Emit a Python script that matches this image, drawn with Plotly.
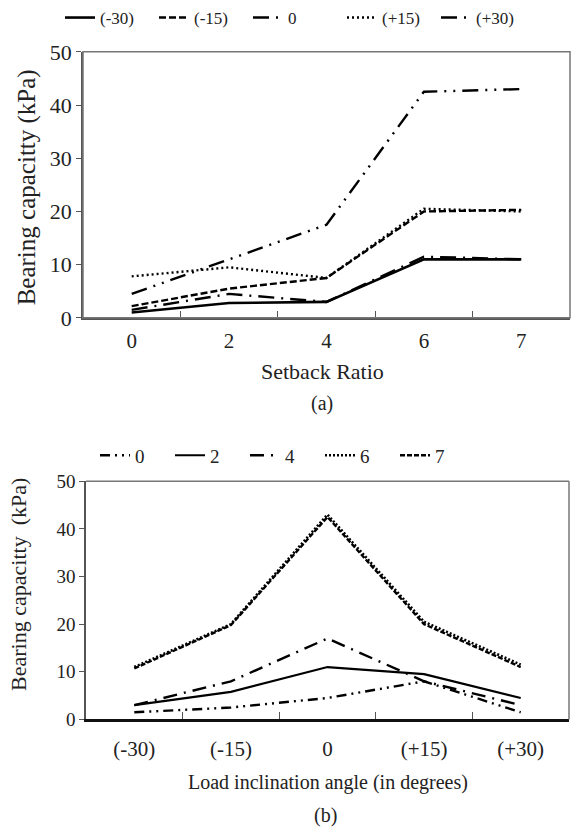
import plotly.graph_objects as go

# ---- Data (a): x = setback ratio, series = load inclination angle ----
setback_labels = ["0", "2", "4", "6", "7"]
a_m30 = [1.0, 2.8, 3.0, 11.0, 11.0]
a_m15 = [2.2, 5.5, 7.5, 20.0, 20.3]
a_0 = [4.5, 11.0, 17.5, 42.5, 43.0]
a_p15 = [7.8, 9.5, 7.5, 20.5, 20.0]
a_p30 = [1.5, 4.5, 3.0, 11.5, 11.0]
a_names = ["(-30)", "(-15)", "0", "(+15)", "(+30)"]

# ---- Data (b): x = load inclination angle, series = setback ratio ----
angle_labels = ["(-30)", "(-15)", "0", "(+15)", "(+30)"]
b_s0 = [1.5, 2.5, 4.5, 8.0, 1.5]
b_s2 = [3.0, 5.8, 11.0, 9.5, 4.5]
b_s4 = [3.0, 8.0, 17.0, 8.0, 3.0]
b_s6 = [11.0, 20.0, 43.0, 20.5, 11.5]
b_s7 = [10.7, 19.8, 42.5, 20.0, 11.0]
b_names = ["0", "2", "4", "6", "7"]

FONT = "Liberation Serif, Times New Roman, DejaVu Serif, serif"
W, H = 572, 839

def px_x(p):
    return p / W

def px_y(p):
    return 1 - p / H

fig = go.Figure()

a_styles = [
    dict(dash="solid", width=2.6),
    dict(dash="7px,3px", width=2.4),
    dict(dash="16px,7px,2px,7px,2px,7px", width=2.4),
    dict(dash="2px,3px", width=2.4),
    dict(dash="16px,7px,2px,7px", width=2.4),
]
for name, vals, st in zip(a_names, [a_m30, a_m15, a_0, a_p15, a_p30], a_styles):
    fig.add_trace(go.Scatter(
        x=setback_labels, y=vals, name=name, mode="lines",
        line=dict(color="black", **st), xaxis="x", yaxis="y", legend="legend"))

b_styles = [
    dict(dash="10px,5px,2px,5px,2px,5px", width=2.4),
    dict(dash="solid", width=2.2),
    dict(dash="14px,7px,2px,7px", width=2.4),
    dict(dash="2px,2px", width=2.6),
    dict(dash="5px,2px", width=2.4),
]
for name, vals, st in zip(b_names, [b_s0, b_s2, b_s4, b_s6, b_s7], b_styles):
    fig.add_trace(go.Scatter(
        x=angle_labels, y=vals, name=name, mode="lines",
        line=dict(color="black", **st), xaxis="x2", yaxis="y2", legend="legend2"))

axis_common = dict(showgrid=False, zeroline=False, color="#222", automargin=False)

def ann(text, x, y, size, angle=0):
    return dict(text=text, x=px_x(x), y=px_y(y), xref="paper", yref="paper",
                xanchor="center", yanchor="middle", textangle=angle, showarrow=False,
                font=dict(size=size, family=FONT, color="#222"))

fig.update_layout(
    width=W, height=H,
    margin=dict(l=0, r=0, t=0, b=0),
    paper_bgcolor="white", plot_bgcolor="white",
    font=dict(family=FONT, color="#222", size=18),
    xaxis=dict(
        domain=[px_x(83), px_x(570)], anchor="y", type="category", range=[-0.5, 4.5],
        tickson="boundaries", ticks="inside", ticklen=7, tickcolor="#555",
        showline=True, linecolor="#555", linewidth=2, ticklabelstandoff=3,
        tickfont=dict(size=21, family=FONT), **axis_common),
    yaxis=dict(
        domain=[px_y(316), px_y(49)], anchor="x", range=[0, 50],
        tickvals=[0, 10, 20, 30, 40, 50], ticks="outside", ticklen=5, tickcolor="#555",
        showline=True, linecolor="#555", linewidth=1.5,
        tickfont=dict(size=22, family=FONT), **axis_common),
    xaxis2=dict(
        domain=[px_x(86), px_x(569)], anchor="y2", type="category", range=[-0.5, 4.5],
        tickson="boundaries", ticks="inside", ticklen=7, tickcolor="#555",
        showline=True, linecolor="#111", linewidth=3, ticklabelstandoff=8,
        tickfont=dict(size=21, family=FONT), **axis_common),
    yaxis2=dict(
        domain=[px_y(719), px_y(480)], anchor="x2", range=[0, 50],
        tickvals=[0, 10, 20, 30, 40, 50], ticks="outside", ticklen=5, tickcolor="#555",
        showline=True, linecolor="#555", linewidth=1.5,
        tickfont=dict(size=19, family=FONT), **axis_common),
    legend=dict(
        orientation="h", x=px_x(60), y=px_y(15), xanchor="left", yanchor="middle",
        entrywidth=49, entrywidthmode="pixels", font=dict(size=17, family=FONT),
        bgcolor="rgba(0,0,0,0)", tracegroupgap=0),
    legend2=dict(
        orientation="h", x=px_x(95), y=px_y(454), xanchor="left", yanchor="middle",
        entrywidth=30, entrywidthmode="pixels", font=dict(size=19, family=FONT),
        bgcolor="rgba(0,0,0,0)"),
    shapes=[
        dict(type="rect", xref="x domain", yref="y domain", x0=0, x1=1, y0=0, y1=1,
             line=dict(color="#777", width=1.5)),
        dict(type="line", xref="x2 domain", yref="y2 domain", x0=0, x1=1, y0=1, y1=1,
             line=dict(color="#777", width=1.5)),
        dict(type="line", xref="x2 domain", yref="y2 domain", x0=1, x1=1, y0=0, y1=1,
             line=dict(color="#777", width=1.5)),
    ],
    annotations=[
        ann("Bearing capacitty (kPa)", 27, 185, 25, -90),
        ann("Setback Ratio", 322, 370, 22),
        ann("(a)", 322, 402, 20),
        ann("Bearing capacitty  (kPa)", 19, 584, 22, -90),
        ann("Load inclination angle (in degrees)", 328, 782, 20),
        ann("(b)", 325, 815, 20),
    ],
)

fig.write_html("out.html", config={"displayModeBar": False},
               post_script="document.body.style.margin='0';document.body.style.padding='0';")
